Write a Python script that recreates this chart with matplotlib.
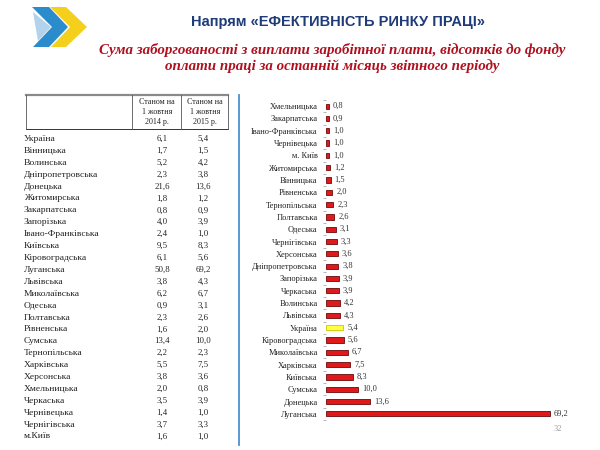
import matplotlib
matplotlib.use("Agg")
import matplotlib.pyplot as plt
from matplotlib.patches import Polygon
from matplotlib.lines import Line2D

# ---- data ----
table_regions = ["Україна", "Вінницька", "Волинська", "Дніпропетровська", "Донецька",
                 "Житомирська", "Закарпатська", "Запорізька", "Івано-Франківська", "Київська",
                 "Кіровоградська", "Луганська", "Львівська", "Миколаївська", "Одеська",
                 "Полтавська", "Рівненська", "Сумська", "Тернопільська", "Харківська",
                 "Херсонська", "Хмельницька", "Черкаська", "Чернівецька", "Чернігівська", "м.Київ"]
table_2014 = [6.1, 1.7, 5.2, 2.3, 21.6, 1.8, 0.8, 4.0, 2.4, 9.5, 6.1, 50.8, 3.8, 6.2, 0.9,
              2.3, 1.6, 13.4, 2.2, 5.5, 3.8, 2.0, 3.5, 1.4, 3.7, 1.6]
table_2015 = [5.4, 1.5, 4.2, 3.8, 13.6, 1.2, 0.9, 3.9, 1.0, 8.3, 5.6, 69.2, 4.3, 6.7, 3.1,
              2.6, 2.0, 10.0, 2.3, 7.5, 3.6, 0.8, 3.9, 1.0, 3.3, 1.0]
table_headers = ["Станом на\n1 жовтня\n2014 р.", "Станом на\n1 жовтня\n2015 р."]

bar_labels = ["Хмельницька", "Закарпатська", "Івано-Франківська", "Чернівецька", "м. Київ",
              "Житомирська", "Вінницька", "Рівненська", "Тернопільська", "Полтавська",
              "Одеська", "Чернігівська", "Херсонська", "Дніпропетровська", "Запорізька",
              "Черкаська", "Волинська", "Львівська", "Україна", "Кіровоградська",
              "Миколаївська", "Харківська", "Київська", "Сумська", "Донецька", "Луганська"]
bar_values = [0.8, 0.9, 1.0, 1.0, 1.0, 1.2, 1.5, 2.0, 2.3, 2.6, 3.1, 3.3, 3.6, 3.8, 3.9,
              3.9, 4.2, 4.3, 5.4, 5.6, 6.7, 7.5, 8.3, 10.0, 13.6, 69.2]
highlight = "Україна"

title = "Напрям «ЕФЕКТИВНІСТЬ РИНКУ ПРАЦІ»"
subtitle = ("Сума заборгованості з виплати заробітної плати, відсотків до фонду\n"
            "оплати праці за останній місяць звітного періоду")
page_no = "32"

W, H = 600, 450
fig = plt.figure(figsize=(6, 4.5), dpi=100)
fig.patch.set_facecolor("white")

def fx(x):
    return x / W

def fy(y):
    return 1 - y / H

def fmt(v):
    return f"{v:.1f}".replace(".", ",")

SERIF = ["Liberation Serif", "DejaVu Serif"]
SANS = ["Liberation Sans", "DejaVu Sans"]

# ---- overlay axes for decorations ----
ov = fig.add_axes([0, 0, 1, 1])
ov.set_xlim(0, W)
ov.set_ylim(H, 0)
ov.axis("off")

# logo
ov.add_patch(Polygon([(50, 7), (66, 7), (87, 27), (66, 47), (51, 47), (70, 27)],
                     closed=True, color="#f4d01c", lw=0))
ov.add_patch(Polygon([(32, 7), (49, 7), (68, 27), (49, 47), (33, 47), (52, 27)],
                     closed=True, color="#2b8ccc", lw=0))
ov.add_patch(Polygon([(33, 12), (51, 27), (38, 41)], closed=True, color="#b3d3ec", lw=0))

# titles
ov.text(338, 22, title, ha="center", va="center", fontsize=10.5, fontweight="bold",
        color="#1f3b78", family=SANS)
ov.text(332, 58, subtitle, ha="center", va="center", fontsize=10.8, fontweight="bold",
        fontstyle="italic", color="#b0101e", family=SERIF, linespacing=1.15)

# separator
ov.add_line(Line2D([239, 239], [95, 445], color="#4a92d2", lw=1.3))

# table header box
ov.add_line(Line2D([26, 228], [95, 95], color="#8a8a8a", lw=1.6))
ov.add_line(Line2D([26, 228], [129, 129], color="#333333", lw=0.7))
for xv in [26, 132, 181, 228]:
    ov.add_line(Line2D([xv, xv], [95, 129], color="#555555", lw=0.6))
col_x = [157, 205]
for cx, hdr in zip(col_x, table_headers):
    ov.text(cx, 112, hdr, ha="center", va="center", fontsize=5.8, color="#222222",
            family=SERIF, linespacing=1.25)

# table rows
row0, dy = 139, 11.9
for i, (r, a, b) in enumerate(zip(table_regions, table_2014, table_2015)):
    yy = row0 + i * dy
    ov.text(24, yy, r, ha="left", va="center", fontsize=6.8, color="#222222", family=SERIF)
    ov.text(162, yy, fmt(a), ha="center", va="center", fontsize=6.3, color="#222222", family=SERIF)
    ov.text(203, yy, fmt(b), ha="center", va="center", fontsize=6.3, color="#222222", family=SERIF)

ov.text(558, 429, page_no, ha="center", va="center", fontsize=6, color="#999999", family=SERIF)

# ---- bar chart ----
ax = fig.add_axes([fx(326), fy(420), (570 - 326) / W, (420 - 100) / H])
n = len(bar_labels)
ypos = list(range(n))
colors = ["#ffff40" if l == highlight else "#e01a1a" for l in bar_labels]
edges = ["#c8c800" if l == highlight else "#6a0a0a" for l in bar_labels]
ax.barh(ypos, bar_values, height=0.42, color=colors, edgecolor=edges, linewidth=0.6)
ax.set_ylim(n - 0.5, -0.5)
ax.set_xlim(0, 69.2 * 244 / 224)
ax.set_yticks(ypos)
ax.set_yticklabels(bar_labels, fontsize=6, family=SERIF, color="#222222")
ax.set_yticks([i - 0.5 for i in range(n + 1)], minor=True)
ax.tick_params(axis="y", which="major", length=0, pad=6)
ax.tick_params(axis="y", which="minor", length=2, width=0.5, color="#999999")
ax.set_xticks([])
for s in ax.spines.values():
    s.set_visible(False)
for y, v in zip(ypos, bar_values):
    ax.text(v + 1.2, y, fmt(v), ha="left", va="center", fontsize=6, family=SERIF,
            color="#333333")

fig.savefig("out.png", dpi=100, facecolor="white")
